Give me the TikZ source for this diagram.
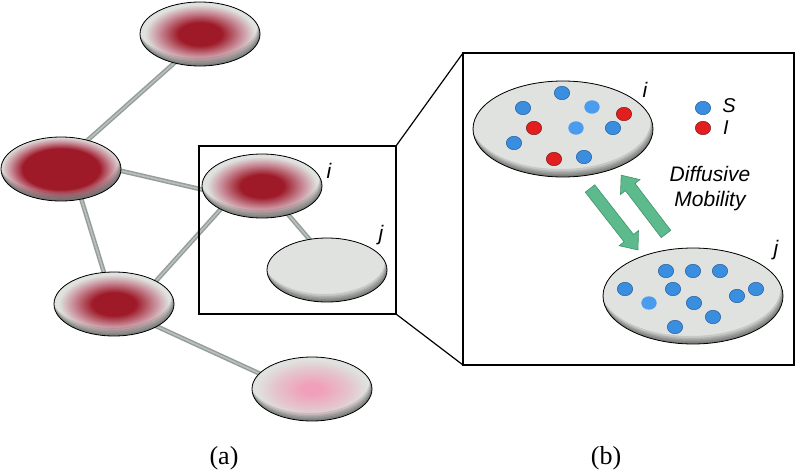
\documentclass[tikz,border=0pt]{standalone}
\usepackage{fontspec}
\setmainfont{Liberation Serif}
\newfontfamily\lsans{Liberation Sans}
\usetikzlibrary{shapes.geometric,backgrounds}
\definecolor{edgegray}{RGB}{223,226,223}
\definecolor{coreRed}{RGB}{158,26,40}
\definecolor{rosy}{RGB}{200,140,152}
\definecolor{pinkcore}{RGB}{240,160,186}
\definecolor{pinkmid}{RGB}{228,198,206}
\definecolor{linkdark}{RGB}{150,158,154}
\definecolor{linklight}{RGB}{186,192,188}
\definecolor{sblue}{RGB}{58,142,224}
\definecolor{sbluelt}{RGB}{74,156,238}
\definecolor{sblueedge}{RGB}{36,90,154}
\definecolor{ired}{RGB}{226,30,30}
\definecolor{irededge}{RGB}{120,26,26}
\definecolor{arrowgreen}{RGB}{92,186,141}
\definecolor{arrowedge}{RGB}{66,146,108}
\pgfdeclareradialshading{redA}{\pgfpoint{0bp}{0bp}}{color(0bp)=(coreRed); color(9bp)=(coreRed); color(17bp)=(rosy); color(23bp)=(edgegray); color(50bp)=(edgegray)}
\pgfdeclareradialshading{redB}{\pgfpoint{0bp}{0bp}}{color(0bp)=(coreRed); color(16bp)=(coreRed); color(21bp)=(rosy); color(25bp)=(edgegray); color(50bp)=(edgegray)}
\pgfdeclareradialshading{pinkC}{\pgfpoint{0bp}{0bp}}{color(0bp)=(pinkcore); color(4bp)=(pinkcore); color(16bp)=(pinkmid); color(23bp)=(edgegray); color(50bp)=(edgegray)}
\tikzset{
  ell/.style 2 args={ellipse, minimum width=#1, minimum height=#2, inner sep=0pt, outer sep=0pt, draw=black, line width=0.8pt},
  shadowA/.style 2 args={path picture={
     \foreach \k in {1.5,3,4.5,6,8}{
       \fill[black,opacity=0.11,even odd rule]
         (path picture bounding box.center) ellipse [x radius=#1, y radius=#2]
         ([xshift={-0.3*\k*1pt}, yshift={\k*1pt}]path picture bounding box.center) ellipse [x radius=#1, y radius=#2];
     }}},
  smallnode/.style={ell={120pt}{64pt}, shadowA={60pt}{32pt}},
  bignode/.style={ell={180pt}{96pt}, shadowA={90pt}{48pt}},
  link/.style={draw=linkdark, double=linklight, double distance=1.6pt, line width=1.5pt},
  zoombox/.style={draw=black, inner sep=0pt, outer sep=0pt, fill=none},
  lab/.style={font=\lsans\itshape\fontsize{21}{25}\selectfont, inner sep=0pt},
  leg/.style={font=\lsans\itshape\fontsize{20}{24}\selectfont, inner sep=0pt},
  captext/.style={font=\fontsize{26}{30}\selectfont, inner sep=0pt},
  sdot/.style={fill=sblue, draw=sblueedge, line width=0.5pt},
  sdotlt/.style={fill=sbluelt},
  idot/.style={fill=ired, draw=irededge, line width=0.5pt},
  blockarrow/.style={fill=arrowgreen, draw=arrowedge, line width=0.6pt, line join=miter},
}
\begin{document}
\begin{tikzpicture}[x=1pt,y=-1pt]
\useasboundingbox (0,0) rectangle (796,471);

% ---- (a) network ----
\node[smallnode, shade, shading=redA] (top) at (200,34) {};
\node[smallnode, shade, shading=redB] (ml) at (61,169) {};
\node[smallnode, shade, shading=redA] (ni) at (262,186) {};
\node[smallnode, fill=edgegray] (nj) at (327,270) {};
\node[smallnode, shade, shading=redA] (bl) at (114,304) {};
\node[smallnode, shade, shading=pinkC] (br) at (312,389) {};

\begin{scope}[on background layer]
  \draw[link] ([shift={(-10,15)}]top.center) -- ([shift={(1,-6)}]ml.center);
  \draw[link] ([shift={(39,-3)}]ml.center) -- ([shift={(-32,10)}]ni.center);
  \draw[link] ([shift={(16,16)}]ml.center) -- ([shift={(-5,-15)}]bl.center);
  \draw[link] ([shift={(33,-13)}]bl.center) -- ([shift={(-33,14)}]ni.center);
  \draw[link] ([shift={(18,19)}]ni.center) -- ([shift={(-11,-23)}]nj.center);
  \draw[link] ([shift={(31,17)}]bl.center) -- ([shift={(-34,-7)}]br.center);
\end{scope}

\node[lab] (li) at (329,171) {i};
\node[lab] (lj) at (381,235) {j};

\node[zoombox, line width=1.5pt, minimum width=197pt, minimum height=168pt] (zoomA) at (297.5,230) {};
\node[zoombox, line width=2pt, minimum width=331pt, minimum height=312pt] (zoomB) at (628.5,209) {};
\draw[line width=1.2pt] (zoomA.north east) -- (zoomB.north west);
\draw[line width=1.2pt] (zoomA.south east) -- (zoomB.south west);

% ---- (b) detail ----
\node[bignode, fill=edgegray] (BI) at (563,129) {};
\node[bignode, fill=edgegray] (BJ) at (693,296) {};
\node[lab] (bli) at (645,90) {i};
\node[lab] (blj) at (776,250) {j};

\foreach \p in {(562,93),(523,108),(613,128),(514,143),(584,157)}
  \path[sdot] \p ellipse [x radius=7.7pt, y radius=6.7pt];
\foreach \p in {(592,107),(576,128)}
  \path[sdotlt] \p ellipse [x radius=7.7pt, y radius=6.7pt];
\foreach \p in {(624,114),(534,128),(554,159)}
  \path[idot] \p ellipse [x radius=7.7pt, y radius=6.7pt];
\foreach \p in {(666,271),(693,271),(720,271),(625,289),(673,289),(737,296),(756,289),(694,303),(713,317),(675,327)}
  \path[sdot] \p ellipse [x radius=7.7pt, y radius=6.7pt];
\path[sdotlt] (649,303) ellipse [x radius=7.7pt, y radius=6.7pt];

% legend
\path[sdot] (703,108) ellipse [x radius=7.7pt, y radius=6.7pt];
\path[idot] (703,128) ellipse [x radius=7.7pt, y radius=6.7pt];
\node[leg] (ls) at (729,106) {S};
\node[leg] (lI) at (726,128) {I};

% diffusive mobility arrows
\begin{scope}[shift={(590,188.5)}, rotate=-52]
  \draw[blockarrow] (0,6) -- (63,6) -- (63,12.3) -- (78,0) -- (63,-12.3) -- (63,-6) -- (0,-6) -- cycle;
\end{scope}
\begin{scope}[shift={(666,234)}, rotate=127.3]
  \draw[blockarrow] (0,6) -- (59,6) -- (59,12.3) -- (74,0) -- (59,-12.3) -- (59,-6) -- (0,-6) -- cycle;
\end{scope}
\node[lab, align=center] (mob) at (710,189) {Diffusive\\Mobility};

% captions
\node[captext] (capa) at (224,458) {(a)};
\node[captext] (capb) at (606,458) {(b)};
\end{tikzpicture}
\end{document}
